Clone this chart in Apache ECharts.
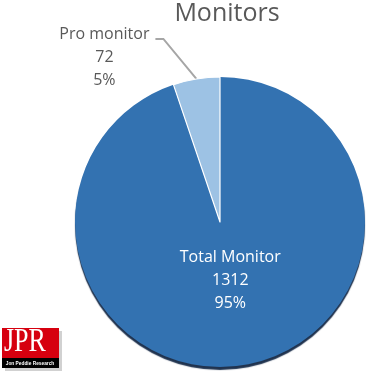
<!DOCTYPE html>
<html>
<head>
<meta charset="utf-8">
<script src="https://cdn.jsdelivr.net/npm/echarts@6/dist/echarts.min.js"></script>
<style>html,body{margin:0;padding:0;background:#fff;}#c{width:369px;height:377px;}</style>
</head>
<body>
<div id="c"></div>
<script>
const categories = ['Total Monitor', 'Pro monitor'];
const values = [1312, 72];
const percents = ['95%', '5%'];
const titleText = 'Monitors';

const colors = ['#3372B1', '#9DC2E4'];
const chart = echarts.init(document.getElementById('c'));
const data = categories.map((name, i) => ({
  name, value: values[i],
  itemStyle: i === 0
    ? { color: colors[i], borderWidth: 0, shadowBlur: 1, shadowOffsetX: 0, shadowOffsetY: 3, shadowColor: 'rgba(20,40,70,0.95)' }
    : { color: colors[i], borderColor: '#fff', borderWidth: 1.2, shadowColor: 'rgba(0,0,0,0)' },
  label: i === 0 ? { position: 'inside', color: '#fff' } : { position: 'outside', color: '#595959' },
  labelLine: { show: i !== 0 }
}));
chart.setOption({
  animation: false,
  title: {
    text: titleText, left: 222, top: -4, textAlign: 'center',
    textStyle: { fontFamily: 'Open Sans', fontSize: 25, fontWeight: 'normal', color: '#595959' }
  },
  graphic: [
    { type: 'rect', shape: { x: 5, y: 331, width: 57, height: 40 }, style: { fill: 'rgba(0,0,0,0.18)' } },
    { type: 'rect', shape: { x: 2, y: 328, width: 57, height: 30 }, style: { fill: '#D6000F' } },
    { type: 'rect', shape: { x: 2, y: 358, width: 57, height: 10 }, style: { fill: '#000' } },
    { type: 'text', x: 4, y: 342, scaleY: 1.3, style: { text: 'JPR', fill: '#fff', font: '26px "Liberation Serif"', align: 'left', verticalAlign: 'middle' } },
    { type: 'text', x: 30, y: 363.5, scaleX: 0.8, style: { text: 'Jon Peddie Research', fill: '#fff', font: 'bold 6px "Liberation Sans"', align: 'center', verticalAlign: 'middle' } }
  ],
  series: [{
    type: 'pie',
    center: [220, 222],
    radius: 145,
    startAngle: 90,
    clockwise: true,
    data,
    label: {
      fontFamily: 'Open Sans', fontSize: 16, lineHeight: 23, align: 'center',
      formatter: p => p.name + '\n' + p.value + '\n' + percents[p.dataIndex]
    },
    labelLine: { lineStyle: { color: '#A6A6A6', width: 2 }, length: 40, length2: 8 },
    labelLayout: function (params) {
      if (params.dataIndex === 0) {
        return { dy: -16, dx: -2 };
      }
      const p0 = params.labelLinePoints[0];
      return {
        x: p0[0] - 92, y: p0[1] - 21, align: 'center', verticalAlign: 'middle',
        labelLinePoints: [p0, [p0[0] - 33, p0[1] - 40], [p0[0] - 41, p0[1] - 40]]
      };
    }
  }]
});
</script>
</body>
</html>
